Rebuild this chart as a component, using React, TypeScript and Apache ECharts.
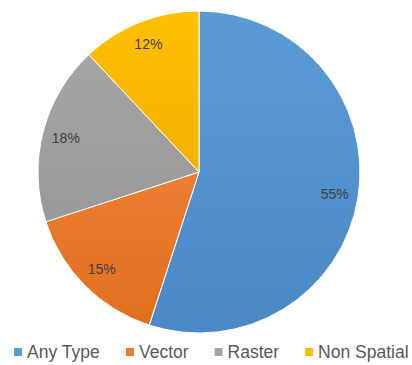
import React, { useEffect, useRef } from "react";
import * as echarts from "echarts";

const categories = ["Any Type", "Vector", "Raster", "Non Spatial"];
const values = [55, 15, 18, 12];
const colors = ["#5B9BD5", "#ED7D31", "#A5A5A5", "#FFC000"];
const darker = ["#4A88C6", "#E0701F", "#999999", "#F2B200"];

export default function App() {
  const ref = useRef<HTMLDivElement>(null);
  useEffect(() => {
    if (!ref.current) return;
    const chart = echarts.init(ref.current, null, { renderer: "svg" });
    const data = categories.map((name, i) => ({
      name,
      value: values[i],
      itemStyle: {
        color: new echarts.graphic.LinearGradient(0, 0, 0, 1, [
          { offset: 0, color: colors[i] },
          { offset: 1, color: darker[i] },
        ]),
      },
    }));
    chart.setOption({
      animation: false,
      backgroundColor: "#ffffff",
      color: colors,
      legend: {
        data: categories.map((name, i) => ({
          name,
          itemStyle: { color: colors[i], borderWidth: 0, opacity: 1 },
        })),
        bottom: 4,
        left: 14,
        right: 0,
        padding: 0,
        icon: "rect",
        itemWidth: 8,
        itemHeight: 8,
        itemGap: 26,
        textStyle: { fontFamily: "Liberation Sans", fontSize: 17.5, color: "#595959" },
      },
      series: [
        {
          type: "pie",
          center: [199, 172],
          radius: [0, 161],
          startAngle: 90,
          clockwise: true,
          data,
          itemStyle: { borderColor: "#ffffff", borderWidth: 1 },
          label: { show: false },
          labelLine: { show: false },
          silent: true,
        },
        {
          type: "pie",
          center: [199, 172],
          radius: [108, 161],
          startAngle: 90,
          clockwise: true,
          data: categories.map((name, i) => ({ name, value: values[i] })),
          itemStyle: { color: "rgba(0,0,0,0)" },
          label: {
            show: true,
            position: "inside",
            formatter: "{d}%",
            fontFamily: "Liberation Sans",
            fontSize: 14,
            color: "#404040",
          },
          labelLine: { show: false },
          silent: true,
          legendHoverLink: false,
        },
      ],
    });
    return () => chart.dispose();
  }, []);
  return <div ref={ref} style={{ position: "fixed", left: 0, top: 0, width: 412, height: 365 }} />;
}
